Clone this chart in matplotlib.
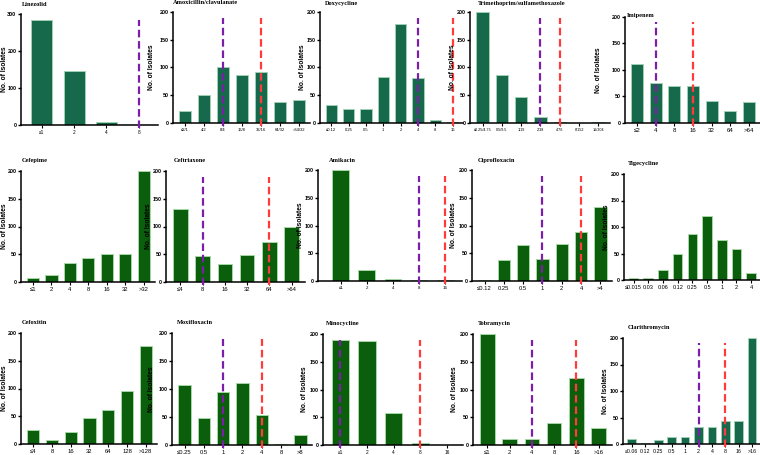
import matplotlib
matplotlib.use('Agg')
import matplotlib.pyplot as plt

# ---------------- data ----------------
linezolid_labels = ['≤1', '2', '4', '8']
linezolid_counts = [285, 145, 8, 0]

amoxclav_labels = ['≤2/1', '4/2', '8/4', '16/8', '32/16', '64/32', '>64/32']
amoxclav_counts = [22, 51, 100, 87, 92, 38, 42]

doxy_labels = ['≤0.12', '0.25', '0.5', '1', '2', '4', '8', '16']
doxy_counts = [32, 26, 25, 83, 179, 81, 6, 1]

tmpsmx_labels = ['≤0.25/4.75', '0.5/9.5', '1/19', '2/38', '4/76', '8/152', '16/304']
tmpsmx_counts = [200, 86, 46, 10, 1, 0, 1]

imipenem_labels = ['≤2', '4', '8', '16', '32', '64', '>64']
imipenem_counts = [111, 76, 70, 70, 41, 23, 39]

cefepime_labels = ['≤1', '2', '4', '8', '16', '32', '>32']
cefepime_counts = [8, 12, 34, 43, 51, 50, 200]

ceftriaxone_labels = ['≤4', '8', '16', '32', '64', '>64']
ceftriaxone_counts = [131, 46, 33, 49, 72, 100]

amikacin_labels = ['≤1', '2', '4', '8', '16']
amikacin_counts = [200, 19, 3, 2, 2]

cipro_labels = ['≤0.12', '0.25', '0.5', '1', '2', '4', '>4']
cipro_counts = [2, 38, 65, 39, 66, 89, 134]

tige_labels = ['≤0.015', '0.03', '0.06', '0.12', '0.25', '0.5', '1', '2', '4']
tige_counts = [3, 4, 19, 50, 87, 121, 75, 59, 14]

cefoxitin_labels = ['≤4', '8', '16', '32', '64', '128', '>128']
cefoxitin_counts = [25, 7, 21, 47, 62, 96, 176]

moxi_labels = ['≤0.25', '0.5', '1', '2', '4', '8', '>8']
moxi_counts = [107, 48, 95, 111, 54, 1, 18]

mino_labels = ['≤1', '2', '4', '8', '16']
mino_counts = [190, 187, 57, 3, 0]

tobra_labels = ['≤1', '2', '4', '8', '16', '>16']
tobra_counts = [200, 11, 10, 40, 120, 31]

clari_labels = ['≤0.06', '0.12', '0.25', '0.5', '1', '2', '4', '8', '16', '>16']
clari_counts = [9, 2, 8, 13, 13, 32, 32, 43, 43, 200]

# susceptible (purple) / resistant (red) breakpoint categories
linezolid_bp = ('8', None)
amoxclav_bp = ('8/4', '32/16')
doxy_bp = ('4', '16')
tmpsmx_bp = ('2/38', '4/76')
imipenem_bp = ('4', '16')
cefepime_bp = (None, None)
ceftriaxone_bp = ('8', '64')
amikacin_bp = ('8', '16')
cipro_bp = ('1', '4')
tige_bp = (None, None)
cefoxitin_bp = (None, None)
moxi_bp = ('1', '4')
mino_bp = ('≤1', '8')
tobra_bp = ('4', '16')
clari_bp = ('2', '8')

# ---------------- style ----------------
W, H = 760, 455
fig = plt.figure(figsize=(W / 100, H / 100), dpi=100)

TEAL = '#17694b'
TEAL_EDGE = '#9fd0b4'
DKGREEN = '#0b5e0b'
DK_EDGE = '#a6d8a6'
PURPLE = '#7b1fa8'
RED = '#ff3b3b'
SANS = ['Liberation Sans', 'DejaVu Sans']
SERIF = ['Liberation Serif', 'DejaVu Serif']


def panel(box, title, title_xy, labels, counts, bp, color, edge, ymax, ystep, ylab_x, xfs,
          xlim_pad=(0.65, 0.4)):
    l, t, r, b = box
    ax = fig.add_axes([l / W, 1 - b / H, (r - l) / W, (b - t) / H])
    xs = list(range(len(labels)))
    ax.bar(xs, counts, width=0.65, color=color, edgecolor=edge, linewidth=0.7, zorder=2)
    ax.set_xlim(-xlim_pad[0], len(labels) - 1 + xlim_pad[1] + 0.2)
    ax.set_ylim(0, ymax)
    ax.set_yticks(list(range(0, ymax + 1, ystep)))
    ax.set_xticks(xs)
    ax.set_xticklabels(labels, fontsize=xfs, family=SANS)
    for lab in ax.get_yticklabels():
        lab.set_fontsize(3.9)
        lab.set_fontweight('bold')
        lab.set_family(SANS)
    for s in ['top', 'right']:
        ax.spines[s].set_visible(False)
    for s in ['left', 'bottom']:
        ax.spines[s].set_linewidth(1.1)
    ax.tick_params(axis='y', length=2.5, width=1.0, pad=0.8)
    ax.tick_params(axis='x', length=1.8, width=0.8, pad=1.8)
    ax.set_ylabel('No. of Isolates', fontsize=4.8, fontweight='bold', family=SANS)
    ax.yaxis.set_label_coords((ylab_x + 3 - l) / (r - l), 0.5)
    s_cat, r_cat = bp
    for cat, c in ((s_cat, PURPLE), (r_cat, RED)):
        if cat is not None:
            ax.axvline(labels.index(cat), ymin=-0.03, ymax=0.95, color=c,
                       linestyle=(0, (3.4, 1.7)), linewidth=1.6, clip_on=False, zorder=3)
    fig.text(title_xy[0] / W, 1 - title_xy[1] / H, title, fontsize=4.6, fontweight='bold',
             family=SERIF, ha='left', va='center')
    return ax


# row 1
panel((21, 14, 158, 125), 'Linezolid', (22, 5), linezolid_labels, linezolid_counts, linezolid_bp,
      TEAL, TEAL_EDGE, 300, 100, 5, 3.4)
panel((173, 12, 310, 123), 'Amoxicillin/clavulanate', (173, 3), amoxclav_labels, amoxclav_counts,
      amoxclav_bp, TEAL, TEAL_EDGE, 200, 50, 152, 3.0)
panel((320, 12, 463, 123), 'Doxycycline', (325, 3), doxy_labels, doxy_counts, doxy_bp,
      TEAL, TEAL_EDGE, 200, 50, 303, 3.0)
panel((470, 12, 610, 123), 'Trimethoprim/sulfamethoxazole', (478, 3), tmpsmx_labels, tmpsmx_counts,
      tmpsmx_bp, TEAL, TEAL_EDGE, 200, 50, 453, 2.7)
panel((625, 17, 760, 123), 'Imipenem', (627, 16), imipenem_labels, imipenem_counts, imipenem_bp,
      TEAL, TEAL_EDGE, 200, 50, 599, 4.4)

# row 2
panel((21, 171, 155, 282), 'Cefepime', (22, 160), cefepime_labels, cefepime_counts, cefepime_bp,
      DKGREEN, DK_EDGE, 200, 50, 5, 4.2)
panel((166, 171, 305, 282), 'Ceftriaxone', (174, 160), ceftriaxone_labels, ceftriaxone_counts,
      ceftriaxone_bp, DKGREEN, DK_EDGE, 200, 50, 149.5, 4.2)
panel((318, 170, 462, 281), 'Amikacin', (329, 160), amikacin_labels, amikacin_counts, amikacin_bp,
      DKGREEN, DK_EDGE, 200, 50, 301, 3.2, (0.88, 0.45))
panel((472, 170, 612, 281), 'Ciprofloxacin', (478, 160), cipro_labels, cipro_counts, cipro_bp,
      DKGREEN, DK_EDGE, 200, 50, 454, 4.2)
panel((624, 174, 760, 280), 'Tigecycline', (628, 164), tige_labels, tige_counts, tige_bp,
      DKGREEN, DK_EDGE, 200, 50, 607, 4.0)

# row 3
panel((21, 333, 157, 444), 'Cefoxitin', (22, 322), cefoxitin_labels, cefoxitin_counts, cefoxitin_bp,
      DKGREEN, DK_EDGE, 200, 50, 5, 4.2)
panel((172, 333, 312, 445), 'Moxifloxacin', (177, 323), moxi_labels, moxi_counts, moxi_bp,
      DKGREEN, DK_EDGE, 200, 50, 152, 4.2)
panel((323, 334, 463, 445), 'Minocycline', (326, 324), mino_labels, mino_counts, mino_bp,
      DKGREEN, DK_EDGE, 200, 50, 305, 3.4)
panel((473, 334, 612, 445), 'Tobramycin', (478, 324), tobra_labels, tobra_counts, tobra_bp,
      DKGREEN, DK_EDGE, 200, 50, 455, 4.2)
panel((623, 338, 760, 444), 'Clarithromycin', (628, 327), clari_labels, clari_counts, clari_bp,
      TEAL, TEAL_EDGE, 200, 50, 606, 3.8)

fig.savefig('out.png', dpi=100)
